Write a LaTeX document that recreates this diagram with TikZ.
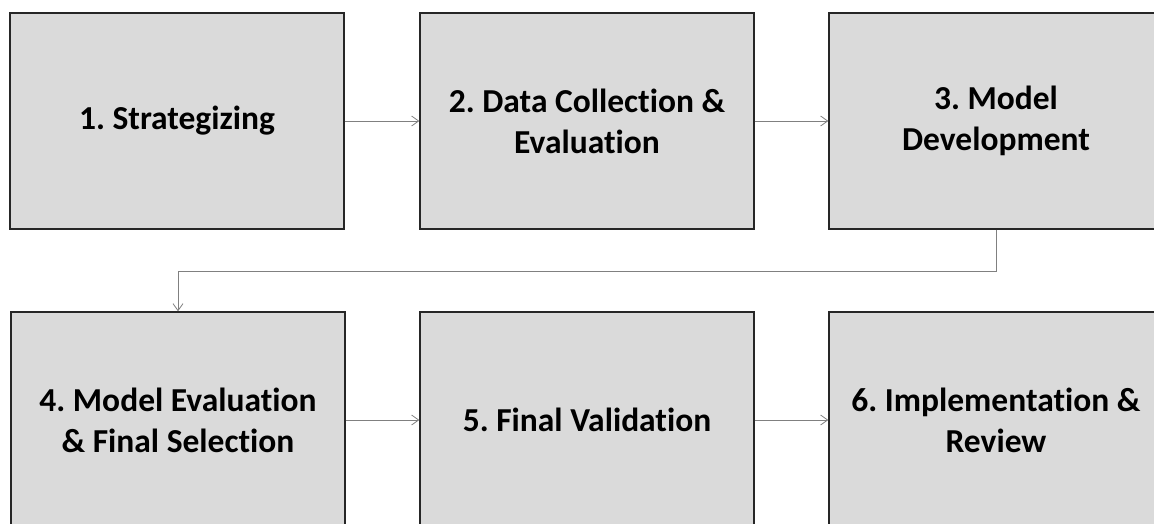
\documentclass[tikz,border=0pt]{standalone}
\usepackage{fontspec}
\setmainfont{Carlito}[Ligatures=NoCommon]
\usetikzlibrary{arrows.meta}
\definecolor{boxfill}{HTML}{DADADA}
\definecolor{boxline}{HTML}{262626}
\definecolor{linkgray}{HTML}{808080}
\frenchspacing
\begin{document}
\begin{tikzpicture}[x=1pt,y=-1pt,
  stage/.style={draw=boxline, line width=1.4pt, fill=boxfill,
    minimum width=334pt, minimum height=216pt, inner sep=0pt,
    align=center, font=\fontsize{33.5}{41}\selectfont\bfseries},
  link/.style={draw=linkgray, line width=0.9pt,
    -{Straight Barb[length=7pt,width=10pt,line width=0.8pt]}}]
\useasboundingbox (0,0) rectangle (1154,523);
\clip (0,0) rectangle (1154,523);
% first row
\node[stage] (s1) at (177,121) {1. Strategizing};
\node[stage] (s2) at (587,121) {2. Data Collection \&\\Evaluation};
\node[stage] (s3) at (996,121) {3. Model\\Development};
% second row
\node[stage] (s4) at (178,420) {4. Model Evaluation\\\& Final Selection};
\node[stage] (s5) at (587,420) {5. Final Validation};
\node[stage] (s6) at (996,420) {6. Implementation \&\\Review};
% connectors
\draw[link] (s1) -- (s2);
\draw[link] (s2) -- (s3);
\draw[link] (s3.south) -- ++(0,42) -| (s4.north);
\draw[link] (s4) -- (s5);
\draw[link] (s5) -- (s6);
\end{tikzpicture}
\end{document}
